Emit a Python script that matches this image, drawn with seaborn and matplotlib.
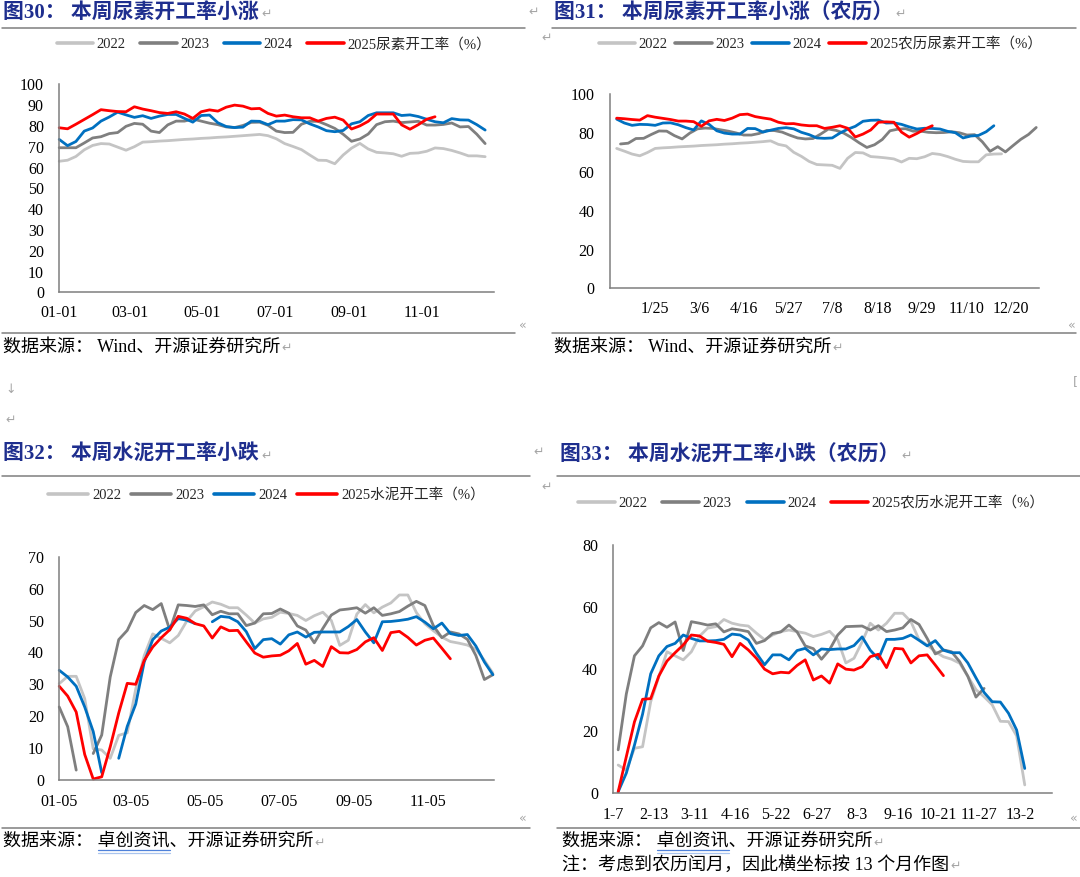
"""
Urea / cement operating-rate seasonal charts (4 panels, report page layout).
"""

import numpy as np
import pandas as pd
import matplotlib
matplotlib.use("Agg")
import matplotlib.pyplot as plt
import matplotlib.dates as mdates
from matplotlib.lines import Line2D
import seaborn as sns


# ──────────────────────────────────────────────
# Data (weekly readings, %)
# ──────────────────────────────────────────────

YEARS = ["2022", "2023", "2024", "2025"]
nan = np.nan

# 图30 尿素开工率 (calendar weeks from 01-01)
urea_2022 = [63, 63.5, 65.3, 68.5, 70.6, 71.5, 71.3, 69.8, 68.3, 70, 72.2, 72.4, 72.7, 72.9, 73.2,
             73.5, 73.7, 74, 74.2, 74.5, 74.7, 75, 75.3, 75.6, 75.9, 75.3, 73.8, 71.5, 70.1, 68.6,
             66, 63.5, 63.4, 61.8, 66, 69.3, 71.6, 68.9, 67.3, 67, 66.6, 65.4, 66.8, 67, 67.8,
             69.4, 69.1, 68.2, 67, 65.6, 65.6, 65.2]
urea_2023 = [69.5, 69.5, 69.5, 71.8, 74.2, 74.8, 76.3, 76.8, 79.8, 81.2, 80.8, 77.5, 76.8, 80.5, 82.3,
             82.3, 83.3, 82.3, 81.3, 80.6, 79.5, 79.2, 80.2, 81.7, 81.8, 80.3, 77.5, 76.8, 76.9, 80.8,
             82.2, 82.2, 80.6, 78.8, 76, 72.6, 73.7, 76.1, 80.6, 82, 82.3, 81.6, 81.9, 82.2, 80.4,
             80.4, 80.7, 81.4, 79.5, 79.7, 76, 71.5]
urea_2024 = [73.5, 70.5, 72.5, 77.5, 79, 82.3, 84.3, 86.6, 85.3, 84.1, 84.9, 83.6, 84.7, 85.5, 85.5,
             83.6, 81.8, 85, 85.2, 81.5, 79.7, 79.2, 79.4, 82.3, 82.2, 80.6, 82.3, 82.3, 83, 82.9,
             81, 79.5, 77.7, 77.2, 77.8, 81, 82, 85, 86.3, 86.3, 86.3, 85, 85.3, 84.5, 83.2,
             82, 81.5, 83.5, 82.9, 82.8, 80.6, 78]
urea_2025 = [79.1, 78.6, 80.8, 83.1, 85.4, 87.8, 87.3, 86.9, 86.8, 89.2, 88.1, 87.3, 86.4, 86, 86.8,
             85.7, 83.6, 86.8, 87.7, 87.1, 89, 90, 89.5, 88.2, 88.4, 86, 84.7, 85.2, 84.4, 83.9,
             83.9, 82.3, 83.6, 84.2, 82.8, 78.5, 80, 82.2, 85.7, 85.7, 85.7, 80.5, 78.4, 80.6, 83.2,
             84.4]

# 图31 尿素开工率 (lunar weeks)
urea_lunar_2022 = [72.1, 70.7, 69.2, 68.3, 70, 72.1, 72.4, 72.6, 72.9, 73.1, 73.3, 73.6, 73.8, 74, 74.3,
                   74.5, 74.8, 75, 75.3, 75.6, 76, 74.2, 73.4, 70.1, 68, 65.4, 63.8, 63.6, 63.4, 61.8,
                   67, 70, 69.8, 67.9, 67.6, 67.2, 66.7, 65.1, 67, 66.8, 67.8, 69.5, 69, 67.9, 66.5,
                   65.4, 65.2, 65.2, 68.8, 69.2, 69.3]
urea_lunar_2023 = [74.4, 74.8, 77.2, 77.3, 79.3, 81.1, 81, 78.7, 77, 80, 82.2, 82.6, 82.4, 81.7, 81,
                   80.1, 79, 79, 79.8, 81.4, 81.3, 80.5, 78.9, 77.5, 77, 77.2, 79.5, 82.1, 81.4, 80,
                   77.7, 75, 72.6, 74, 76.7, 81.2, 82, 82.3, 81, 81, 80.4, 80.2, 80.3, 80.7, 80.2,
                   79, 79.2, 75.5, 70.6, 73, 70.3, 73.6, 76.8, 79.3, 82.9]
urea_lunar_2024 = [87.2, 85.2, 84, 84.5, 84.4, 84, 85.2, 85.3, 84.3, 82.8, 81.6, 86.3, 84.5, 81.2, 80,
                   79.5, 79.5, 82.4, 82.3, 80.5, 81.5, 82.4, 82.8, 82.2, 80.4, 79.2, 77.5, 77.3, 77.5, 80,
                   82, 83.5, 86.1, 86.6, 86.7, 85.2, 85.3, 84.5, 83.2, 82.1, 82.5, 82.4, 82.1, 80.9, 80.2,
                   77.5, 78.5, 78.8, 80.7, 83.8]
urea_lunar_2025 = [87.7, 87.4, 87, 86.7, 89, 88.2, 87.6, 87, 86.2, 86.2, 85.9, 83.5, 86.3, 87.1, 86.5,
                   87.7, 89.5, 89.8, 88.5, 87.8, 87.2, 85.6, 84.8, 84.9, 84.2, 83.8, 83.8, 82.4, 83, 83.8,
                   82.5, 78, 79.5, 81.6, 85.6, 85.8, 85.6, 80.5, 77.9, 79.8, 82, 83.8]

# 图32 水泥开工率 (calendar weeks from 01-05)
cement_2022 = [30.2, 32.5, 32.5, 25.5, 9.8, 9.4, 6.8, 14, 14.8, 28.5, 39, 45.8, 44.4, 43, 45.3,
               49.8, 53, 54.3, 55.8, 55.1, 54, 54, 51.7, 49.2, 50.5, 51, 52.6, 52.2, 51.6, 50,
               51.5, 52.6, 50, 42.2, 43.8, 52, 55, 52.4, 54.2, 55.5, 58, 58, 52.5, 49, 46.8,
               44.8, 43.4, 42.9, 42.3, 41, 37.5, 33.5]
cement_2023 = [22.9, 16.7, 3.1, nan, 8.3, 14.1, 32.3, 44, 46.9, 52.5, 54.7, 53.4, 55.3, 47, 54.9,
               54.7, 54.4, 54.9, 51.8, 52.9, 52.1, 52.1, 48.4, 49.2, 52.1, 52.2, 53.6, 52.3, 48.3, 47,
               43, 47.5, 51.7, 53.3, 53.6, 54, 52.3, 54, 51.6, 52.1, 52.8, 54.5, 56, 54.7, 48.4,
               44.6, 46.4, 45.8, 44.1, 39, 31.5, 33]
cement_2024 = [34.4, 32.3, 29.4, 22.9, 15.2, 2.3, nan, 6.8, 16.8, 23.8, 37, 44, 46.7, 47.9, 50.6,
               50.1, 49, nan, 49.6, 51.3, 51, 49.6, 46.5, 41.2, 44, 44.3, 42.6, 45.5, 46.4, 44.8,
               46.3, 46.4, 46.4, 46.4, 48.1, 50.3, 46.4, 43, 49.6, 49.7, 50, 50.4, 51.2, 49.5, 47.4,
               49.2, 45.9, 45.3, 45.6, 42, 37, 33]
cement_2025 = [29.4, 26.3, 21.3, 8, 0.3, 1, 10.4, 21, 30.3, 30, 37.5, 41.7, 44.6, 47.1, 51.3,
               50.7, 49, 48.3, 44.5, 48, 46.8, 46.9, 43.3, 39.8, 38.5, 38.9, 39.1, 40.5, 42.8, 36.3,
               37.5, 35.6, 41.8, 39.9, 39.8, 40.9, 43.3, 44.6, 40.6, 46.2, 46.6, 44.7, 42.3, 43.8, 44.5,
               41.3, 38]

# 图33 水泥开工率 (lunar weeks, 13 months)
cement_lunar_2022 = [9.1, 7.5, 14.5, 15, 29.5, 37.6, 45.6, 44.3, 43, 45.6, 50.6, 53.2, 53.7, 56, 54.8,
                     54.2, 53.9, 51.6, 49.5, 51, 52.1, 52.6, 52.1, 51.6, 50.5, 51.2, 52.2, 49.5, 42, 43.5,
                     48.8, 54.8, 52.6, 54.8, 58, 58, 55.3, 49.5, 47.8, 45.6, 44, 43.2, 41.9, 37.7, 33.4,
                     31.1, 28.5, 23.2, 23.1, 18.5, 2.7]
cement_lunar_2023 = [14, 32, 44.3, 47.5, 53.3, 55, 53.5, 55.2, 46, 55.3, 54.8, 54.2, 54.6, 52, 53,
                     52.6, 52.1, 48.3, 49.2, 51.5, 52, 54.2, 52, 47.5, 46.6, 43.2, 46.3, 51, 53.7, 53.8,
                     53.9, 52.6, 54, 52.1, 52.6, 53.3, 56, 54.4, 49.9, 44.9, 46.2, 45.6, 42.4, 37.7, 31,
                     33.8]
cement_lunar_2024 = [0.5, 6.5, 15.5, 25.5, 38.5, 44.3, 47.3, 48.3, 51, 49.9, 49.1, 49.1, 49.2, 49.6, 51.3,
                     51, 49.4, 45.1, 41.4, 44.6, 44.6, 43, 46, 46.7, 44.6, 46.5, 46.3, 46.5, 46.5, 47.6,
                     50.4, 46.1, 43.3, 49.6, 49.6, 49.9, 51, 49.3, 47.5, 49.2, 46.1, 45.3, 45.3, 42, 37.2,
                     32.5, 29.5, 29.4, 25.8, 20.4, 8]
cement_lunar_2025 = [0.5, 11.8, 23, 30.3, 30.5, 37.8, 42.6, 45.3, 47.8, 51, 50.7, 49, 48.6, 48, 44,
                     48.3, 46.2, 43.5, 40, 38.5, 39, 38.8, 41.2, 43, 36.5, 37.8, 35.5, 41.7, 40, 39.7,
                     40.8, 44, 44.8, 40.5, 46.7, 46.5, 42, 44.3, 44.6, 41.3, 37.9]

lunar_urea_ticks = ["1/25", "3/6", "4/16", "5/27", "7/8", "8/18", "9/29", "11/10", "12/20"]
lunar_cement_ticks = ["1-7", "2-13", "3-11", "4-16", "5-22", "6-27", "8-3", "9-16", "10-21", "11-27", "13-2"]

COLORS = {"2022": "#C4C4C4", "2023": "#7F7F7F", "2024": "#0070C0", "2025": "#FF0000"}
TITLE_COLOR = "#1E2E8E"
RULE_COLOR = "#7F7F7F"
MARK_COLOR = "#A6A6A6"


# ──────────────────────────────────────────────
# Helpers
# ──────────────────────────────────────────────

W, H = 1080, 877

sns.set_theme(style="white")
plt.rcParams["font.family"] = ["Liberation Serif", "Noto Sans CJK SC", "DejaVu Sans"]

fig = plt.figure(figsize=(W / 100, H / 100), dpi=100)


def fx(x):
    return x / W


def fy(y):
    return 1 - y / H


def add_axes(left, top, right, bottom):
    return fig.add_axes([fx(left), fy(bottom), (right - left) / W, (bottom - top) / H])


def build_frame(series, x_of):
    """Long frame with a segment id so NaN gaps stay broken."""
    parts = []
    for year, values in series.items():
        vals = np.asarray(values, dtype=float)
        df = pd.DataFrame({
            "x": x_of(year, len(vals)),
            "value": vals,
            "year": year,
            "seg": np.cumsum(np.isnan(vals)),
        })
        parts.append(df.dropna(subset=["value"]))
    return pd.concat(parts, ignore_index=True)


def draw_lines(ax, df):
    sns.lineplot(data=df, x="x", y="value", hue="year", units="seg", estimator=None,
                 hue_order=YEARS, palette=COLORS, linewidth=2.0, legend=False, ax=ax)
    for line in ax.lines:
        line.set_clip_on(False)


def style_axes(ax, ymax, ystep, xpad=9, ypad=11):
    ax.set_ylim(0, ymax)
    ax.set_yticks(np.arange(0, ymax + 1, ystep))
    ax.set_xlabel("")
    ax.set_ylabel("")
    ax.grid(False)
    ax.set_facecolor("white")
    for s in ["top", "right"]:
        ax.spines[s].set_visible(False)
    for s in ["left", "bottom"]:
        ax.spines[s].set_color(RULE_COLOR)
        ax.spines[s].set_linewidth(1.1)
    ax.tick_params(direction="in", length=5, width=1.1, color=RULE_COLOR,
                   labelsize=11.5, labelcolor="black")
    ax.tick_params(axis="x", pad=xpad)
    ax.tick_params(axis="y", pad=ypad)


def add_legend(x, y, last_label, handlelength, textpad, colspacing):
    handles = [Line2D([], [], color=COLORS[yr], lw=2.6) for yr in YEARS]
    labels = YEARS[:3] + [last_label]
    fig.legend(handles, labels, loc="center left", bbox_to_anchor=(fx(x), fy(y)),
               ncol=4, frameon=False, fontsize=10.5, handlelength=handlelength,
               handletextpad=textpad, columnspacing=colspacing,
               borderpad=0, borderaxespad=0)


def rule(x0, x1, y):
    fig.add_artist(Line2D([fx(x0), fx(x1)], [fy(y), fy(y)], color=RULE_COLOR,
                          lw=1.1, transform=fig.transFigure))


def mark(x, y, s="↵"):
    fig.text(fx(x), fy(y), s, family="DejaVu Sans", fontsize=9, color=MARK_COLOR,
             ha="left", va="center")


def text_width(s, **kw):
    t = fig.text(0, 0, s, **kw)
    w = t.get_window_extent(fig.canvas.get_renderer()).width
    t.remove()
    return w


def title(x, y, s):
    kw = dict(fontsize=15, fontweight="bold", color=TITLE_COLOR)
    fig.text(fx(x), fy(y), s, ha="left", va="center", **kw)
    mark(x + text_width(s, **kw) + 2, y + 1)


def source(x, y, s, underline=None):
    kw = dict(fontsize=13, color="black")
    fig.text(fx(x), fy(y), s, ha="left", va="center", **kw)
    mark(x + text_width(s, **kw) + 1, y + 1)
    if underline:
        pre = s[:s.index(underline)]
        x0 = x + text_width(pre, **kw)
        x1 = x0 + text_width(underline, **kw)
        fig.add_artist(Line2D([fx(x0), fx(x1)], [fy(y + 8.5), fy(y + 8.5)], color="#4F81D9",
                              lw=0.9, transform=fig.transFigure))
        fig.add_artist(Line2D([fx(x0), fx(x1)], [fy(y + 11), fy(y + 11)], color="#A9C4EE",
                              lw=0.9, transform=fig.transFigure))


def calendar_x(start):
    def f(year, n):
        return pd.Timestamp(start) + pd.to_timedelta(7 * np.arange(n), unit="D")
    return f


def lunar_x(offsets):
    def f(year, n):
        return np.arange(n) + offsets.get(year, 0.0)
    return f


# ──────────────────────────────────────────────
# 图30: calendar urea
# ──────────────────────────────────────────────

ax1 = add_axes(59.2, 84.3, 493.5, 292.3)
df1 = build_frame(dict(zip(YEARS, [urea_2022, urea_2023, urea_2024, urea_2025])),
                  calendar_x("2025-01-01"))
draw_lines(ax1, df1)
style_axes(ax1, 100, 10)
ax1.set_xlim(pd.Timestamp("2025-01-01"), pd.Timestamp("2025-12-31"))
ax1.xaxis.set_major_locator(mdates.MonthLocator(bymonth=[1, 3, 5, 7, 9, 11]))
ax1.xaxis.set_major_formatter(mdates.DateFormatter("%m-%d"))

title(3.4, 13.3, "图30： 本周尿素开工率小涨")
rule(2, 525, 27.7)
add_legend(56.8, 44.3, "2025尿素开工率（%）", 2.5, 0.23, 1.0)
rule(2, 515, 333.3)
source(3.4, 346.7, "数据来源： Wind、开源证券研究所")

# ──────────────────────────────────────────────
# 图31: lunar urea
# ──────────────────────────────────────────────

ax2 = add_axes(609.9, 94.3, 1039.3, 288.3)
df2 = build_frame(dict(zip(YEARS, [urea_lunar_2022, urea_lunar_2023, urea_lunar_2024, urea_lunar_2025])),
                  lunar_x({"2023": 0.5}))
draw_lines(ax2, df2)
style_axes(ax2, 100, 20)
ax2.set_xlim(-0.88, 54.9)
ax2.set_xticks(4.9 + 5.79 * np.arange(len(lunar_urea_ticks)))
ax2.set_xticklabels(lunar_urea_ticks)

title(553.8, 13.3, "图31： 本周尿素开工率小涨（农历）")
rule(552, 1076, 27.7)
add_legend(598.5, 44.3, "2025农历尿素开工率（%）", 2.5, 0.23, 0.55)
rule(552, 1076, 333.3)
source(553.8, 346.7, "数据来源： Wind、开源证券研究所")

# ──────────────────────────────────────────────
# 图32: calendar cement
# ──────────────────────────────────────────────

ax3 = add_axes(59.2, 556.7, 494.1, 780)
df3 = build_frame(dict(zip(YEARS, [cement_2022, cement_2023, cement_2024, cement_2025])),
                  calendar_x("2025-01-05"))
draw_lines(ax3, df3)
style_axes(ax3, 70, 10, xpad=10)
ax3.set_xlim(pd.Timestamp("2025-01-05"), pd.Timestamp("2025-12-29"))
ax3.xaxis.set_major_locator(mdates.MonthLocator(bymonth=[1, 3, 5, 7, 9, 11], bymonthday=5))
ax3.xaxis.set_major_formatter(mdates.DateFormatter("%m-%d"))

title(3.4, 455, "图32： 本周水泥开工率小跌")
rule(2, 530, 475.7)
add_legend(48.2, 495, "2025水泥开工率（%）", 2.7, 0.3, 0.7)
rule(2, 530, 828.3)
source(3.4, 841.7, "数据来源： 卓创资讯、开源证券研究所", underline="卓创资讯")

# ──────────────────────────────────────────────
# 图33: lunar cement (13 months)
# ──────────────────────────────────────────────

ax4 = add_axes(613.3, 545, 1052.4, 793.3)
df4 = build_frame(dict(zip(YEARS, [cement_lunar_2022, cement_lunar_2023, cement_lunar_2024,
                                   cement_lunar_2025])),
                  lunar_x({}))
draw_lines(ax4, df4)
style_axes(ax4, 80, 20, xpad=10)
ax4.set_xlim(-0.6, 53.4)
ax4.set_xticks(5 * np.arange(len(lunar_cement_ticks)) - 0.6)
ax4.set_xticklabels(lunar_cement_ticks)

title(560, 455, "图33： 本周水泥开工率小跌（农历）")
rule(557, 1080, 475.7)
add_legend(577.9, 503.3, "2025农历水泥开工率（%）", 2.55, 0.24, 1.0)
rule(557, 1080, 827.7)
source(562.4, 841.7, "数据来源： 卓创资讯、开源证券研究所", underline="卓创资讯")
source(562.4, 865, "注：考虑到农历闰月，因此横坐标按 13 个月作图")

# stray editing marks from the source document
mark(528, 12)
mark(541, 38)
mark(519, 325, "«")
mark(1068, 325, "«")
mark(5, 390, "↓")
mark(5, 420)
mark(1073, 382, "[")
mark(533, 452)
mark(541, 487)
mark(519, 818, "«")
mark(1070, 818, "«")

fig.savefig("out.png", dpi=100, facecolor="white")
